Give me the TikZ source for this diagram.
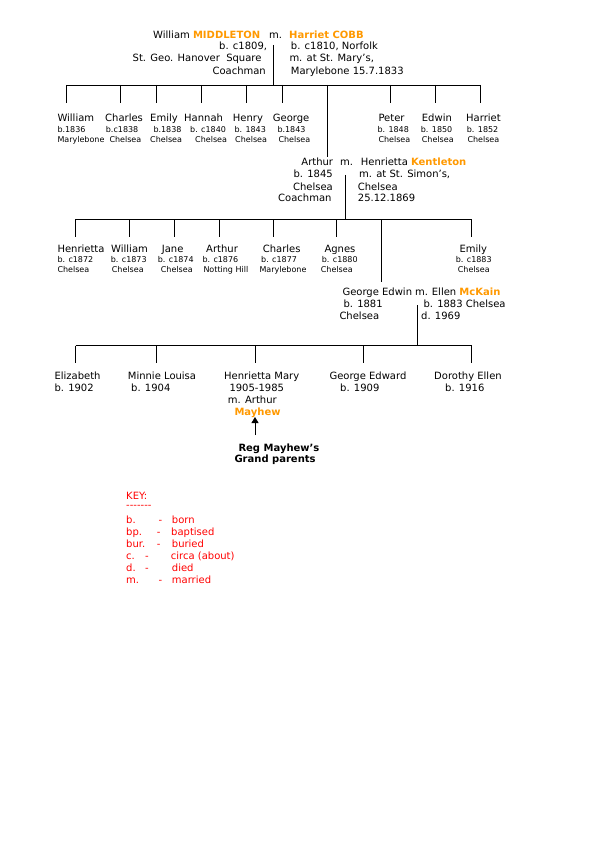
\documentclass[tikz,border=0pt]{standalone}
\usepackage{fontspec}
\setmainfont{DejaVu Sans}
\usetikzlibrary{arrows.meta}
\definecolor{famorange}{RGB}{255,153,0}
\definecolor{keyred}{RGB}{255,0,0}
\newcommand{\orn}[1]{\textcolor{famorange}{\textbf{#1}}}
\begin{document}
\begin{tikzpicture}[x={(1pt,0)},y={(0,-1pt)},
  txt/.style={inner sep=0pt,anchor=base west,font=\fontsize{10}{12}\selectfont},
  txtr/.style={txt,anchor=base east},
  sm/.style={inner sep=0pt,anchor=base west,font=\fontsize{8}{10}\selectfont},
  keyt/.style={txt,text=keyred},
  link/.style={line width=0.8pt,black}]
\useasboundingbox[fill=white] (0,0) rectangle (595,842);

% ---------- Generation 1 ----------
\node[txt] (wm) at (153,38.6) {William \orn{MIDDLETON}};
\node[txt] (wmm) at (269,38.6) {m.};
\node[txt] (hc) at (289,38.6) {\orn{Harriet COBB}};
\node[txtr] (wb) at (267.3,49.6) {b. c1809,};
\node[txtr] (wp) at (261.7,62) {St. Geo. Hanover\ \ Square};
\node[txtr] (wo) at (266,74.3) {Coachman};
\node[txt] (hb) at (290.7,49.6) {b. c1810, Norfolk};
\node[txt] (hm) at (289.3,62) {m. at St. Mary’s,};
\node[txt] (hd) at (290.7,74.3) {Marylebone 15.7.1833};

\coordinate (g1m) at (273,45);
\coordinate (g1j) at (273,85);
\coordinate (g1L) at (66,85);
\coordinate (g1R) at (480.7,85);
\draw[link] (g1m) -- (g1j);
\draw[link] (g1L) -- (g1R);
\foreach \n/\x in {a/66,b/120.7,c/156.7,d/201.7,e/246.7,f/282.5,g/390.7,h/435.5,i/480.7}{
  \coordinate (c1\n t) at (\x,85);
  \coordinate (c1\n b) at (\x,103);
  \draw[link] (c1\n t) -- (c1\n b);
}

% children row 1
\node[txt] (k1) at (57.3,122) {William};
\node[sm] at (57.3,132.2) {b.1836};
\node[sm] at (57.3,142.2) {Marylebone};
\node[txt] (k2) at (105,122) {Charles};
\node[sm] at (105.7,132.2) {b.c1838};
\node[sm] at (109.3,142.2) {Chelsea};
\node[txt] (k3) at (150,122) {Emily};
\node[sm] at (153.3,132.2) {b.1838};
\node[sm] at (150,142.2) {Chelsea};
\node[txt] (k4) at (184,122) {Hannah};
\node[sm] at (190,132.2) {b. c1840};
\node[sm] at (195,142.2) {Chelsea};
\node[txt] (k5) at (232.7,122) {Henry};
\node[sm] at (234.3,132.2) {b. 1843};
\node[sm] at (235,142.2) {Chelsea};
\node[txt] (k6) at (272.7,122) {George};
\node[sm] at (277.3,132.2) {b.1843};
\node[sm] at (278.3,142.2) {Chelsea};
\node[txt] (k7) at (378.3,122) {Peter};
\node[sm] at (377.3,132.2) {b. 1848};
\node[sm] at (378.3,142.2) {Chelsea};
\node[txt] (k8) at (421.7,122) {Edwin};
\node[sm] at (420.7,132.2) {b. 1850};
\node[sm] at (421.7,142.2) {Chelsea};
\node[txt] (k9) at (466,122) {Harriet};
\node[sm] at (466.7,132.2) {b. 1852};
\node[sm] at (467.3,142.2) {Chelsea};

% Arthur
\coordinate (art) at (327.3,85);
\coordinate (arb) at (327.3,157);
\draw[link] (art) -- (arb);
\node[txtr] (ar) at (333.3,166) {Arthur};
\node[txt] (arm) at (340,166) {m.};
\node[txt] (he) at (360.7,166) {Henrietta \orn{Kentleton}};
\node[txtr] at (333,178) {b. 1845};
\node[txtr] at (333,190.3) {Chelsea};
\node[txtr] at (331.7,202) {Coachman};
\node[txt] at (359,178) {m. at St. Simon’s,};
\node[txt] at (357.7,190.3) {Chelsea};
\node[txt] at (357.7,202) {25.12.1869};

% ---------- Generation 2 ----------
\coordinate (g2m) at (345.7,175);
\coordinate (g2j) at (345.7,219.3);
\coordinate (g2L) at (75.7,219.3);
\coordinate (g2R) at (471.7,219.3);
\draw[link] (g2m) -- (g2j);
\draw[link] (g2L) -- (g2R);
\foreach \n/\x in {a/75.7,b/129.3,c/174.3,d/219.3,e/273.3,f/336.7,h/471.7}{
  \coordinate (c2\n t) at (\x,219.3);
  \coordinate (c2\n b) at (\x,237.3);
  \draw[link] (c2\n t) -- (c2\n b);
}
\coordinate (c2gt) at (381.7,219.3);
\coordinate (c2gb) at (381.7,281.7);
\draw[link] (c2gt) -- (c2gb);

\node[txt] (m1) at (57.3,252) {Henrietta};
\node[sm] at (57.3,262.2) {b. c1872};
\node[sm] at (57.3,272.2) {Chelsea};
\node[txt] (m2) at (111,252) {William};
\node[sm] at (110.7,262.2) {b. c1873};
\node[sm] at (111.7,272.2) {Chelsea};
\node[txt] (m3) at (161.7,252) {Jane};
\node[sm] at (157.7,262.2) {b. c1874};
\node[sm] at (160.7,272.2) {Chelsea};
\node[txt] (m4) at (206,252) {Arthur};
\node[sm] at (202.3,262.2) {b. c1876};
\node[sm] at (203.3,272.2) {Notting Hill};
\node[txt] (m5) at (262.7,252) {Charles};
\node[sm] at (261,262.2) {b. c1877};
\node[sm] at (259.3,272.2) {Marylebone};
\node[txt] (m6) at (324.3,252) {Agnes};
\node[sm] at (321.7,262.2) {b. c1880};
\node[sm] at (320.7,272.2) {Chelsea};
\node[txt] (m8) at (459.3,252) {Emily};
\node[sm] at (455.7,262.2) {b. c1883};
\node[sm] at (457.7,272.2) {Chelsea};

% George Edwin
\node[txt] (ge) at (342.3,295.3) {George Edwin};
\node[txt] (gem) at (415,295.3) {m.};
\node[txt] (el) at (431.7,295.3) {Ellen \orn{McKain}};
\node[txt] at (343.3,307.6) {b. 1881};
\node[txt] at (339.3,319.6) {Chelsea};
\node[txt] at (423.3,307.6) {b. 1883 Chelsea};
\node[txt] at (421,319.6) {d. 1969};

% ---------- Generation 3 ----------
\coordinate (g3m) at (417.3,305);
\coordinate (g3j) at (417.3,345.7);
\coordinate (g3L) at (75.7,345.7);
\coordinate (g3R) at (471.7,345.7);
\draw[link] (g3m) -- (g3j);
\draw[link] (g3L) -- (g3R);
\foreach \n/\x in {a/75.7,b/156.7,c/255,d/363.3,e/471.7}{
  \coordinate (c3\n t) at (\x,345.7);
  \coordinate (c3\n b) at (\x,363.3);
  \draw[link] (c3\n t) -- (c3\n b);
}

\node[txt] (n1) at (54.3,379.3) {Elizabeth};
\node[txt] at (54.3,391) {b. 1902};
\node[txt] (n2) at (127.7,379.3) {Minnie Louisa};
\node[txt] at (131,391) {b. 1904};
\node[txt] (n3) at (224,379.3) {Henrietta Mary};
\node[txt] at (229.3,391) {1905-1985};
\node[txt] at (227.7,403.6) {m. Arthur};
\node[txt] (may) at (234.3,415.3) {\orn{Mayhew}};
\node[txt] (n4) at (329.3,379.3) {George Edward};
\node[txt] at (340,391) {b. 1909};
\node[txt] (n5) at (434,379.3) {Dorothy Ellen};
\node[txt] at (445,391) {b. 1916};

% Reg Mayhew
\node[txt,font=\fontsize{10}{12}\selectfont\bfseries] (reg) at (238.3,451) {Reg Mayhew’s};
\node[txt,font=\fontsize{10}{12}\selectfont\bfseries] (reg2) at (234.3,462.6) {Grand parents};
\coordinate (arS) at (255,435);
\coordinate (arE) at (255,417);
\draw[link,-{Triangle[length=6pt,width=7pt]}] (arS) -- (arE);

% ---------- Key ----------
\node[keyt] (key) at (126,499.3) {KEY:};
\node[keyt] at (126,508.7) {-{}-{}-{}-{}-{}-{}-};
\node[keyt] at (126,523.6) {b.};
\node[keyt] at (158.3,523.6) {-};
\node[keyt] at (171.7,523.6) {born};
\node[keyt] at (126,535.3) {bp.};
\node[keyt] at (156.7,535.3) {-};
\node[keyt] at (171,535.3) {baptised};
\node[keyt] at (126,547) {bur.};
\node[keyt] at (156.7,547) {-};
\node[keyt] at (171.7,547) {buried};
\node[keyt] at (126,559.3) {c.};
\node[keyt] at (145,559.3) {-};
\node[keyt] at (170.7,559.3) {circa (about)};
\node[keyt] at (126,571.3) {d.};
\node[keyt] at (145,571.3) {-};
\node[keyt] at (171.7,571.3) {died};
\node[keyt] at (126,583) {m.};
\node[keyt] at (158.3,583) {-};
\node[keyt] at (171.7,583) {married};
\end{tikzpicture}
\end{document}
